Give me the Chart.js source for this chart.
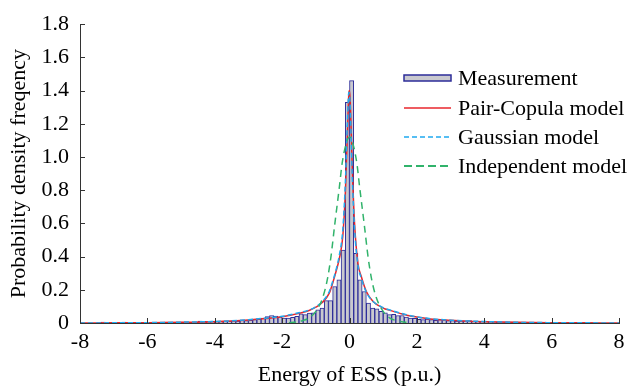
<!DOCTYPE html>
<html>
<head>
<meta charset="utf-8">
<script src="https://cdn.jsdelivr.net/npm/chart.js@4.4.0/dist/chart.umd.min.js"></script>
<style>
html, body { margin: 0; padding: 0; background: #ffffff; }
</style>
</head>
<body>
<canvas id="chart" width="633" height="387"></canvas>
<script>
// histogram bins: 0.125 wide, first bin starts at -7.5
const binStart = -7.5;
const binWidth = 0.125;
const measurement = [
    0.004, 0.006, 0.003, 0.002, 0.003, 0.002, 0.005, 0.003, 0.004, 0.002, 0.003, 0.003,
    0.003, 0.004, 0.002, 0.003, 0.005, 0.003, 0.004, 0.004, 0.006, 0.005, 0.004, 0.006,
    0.012, 0.010, 0.008, 0.011, 0.009, 0.010, 0.012, 0.010, 0.013, 0.012, 0.016, 0.014,
    0.016, 0.020, 0.022, 0.030, 0.038, 0.045, 0.042, 0.036, 0.030, 0.030, 0.034, 0.040,
    0.055, 0.050, 0.060, 0.062, 0.080, 0.090, 0.135, 0.135, 0.220, 0.260, 0.440, 1.330,
    1.460, 0.420, 0.260, 0.190, 0.120, 0.090, 0.085, 0.070, 0.062, 0.050, 0.052, 0.045,
    0.045, 0.035, 0.030, 0.028, 0.022, 0.020, 0.024, 0.020, 0.016, 0.020, 0.018, 0.014,
    0.015, 0.012, 0.010, 0.013, 0.014, 0.010, 0.008, 0.009, 0.007, 0.008, 0.006, 0.005,
    0.006, 0.004, 0.005, 0.004, 0.003, 0.004, 0.003, 0.002, 0.003, 0.004, 0.002, 0.002,
    0.002, 0.003, 0.002, 0.001, 0.002, 0.001, 0.002, 0.001, 0.001, 0.001, 0.000, 0.000
];

// fitted densities
const curveX = [-8, -7, -6, -5, -4, -3.5, -3, -2.5, -2, -1.5, -1.2, -1, -0.8, -0.6, -0.5, -0.4, -0.3, -0.2, -0.12, -0.06, -0.02, 0, 0.03, 0.08, 0.15, 0.25, 0.35, 0.5, 0.7, 1, 1.2, 1.5, 1.7, 2, 2.4, 3, 3.5, 4, 5, 6, 7, 8];
const pairCopula = [0, 0.001, 0.002, 0.004, 0.008, 0.012, 0.018, 0.027, 0.038, 0.058, 0.075, 0.095, 0.125, 0.18, 0.24, 0.31, 0.39, 0.52, 0.8, 1.15, 1.38, 1.40, 1.3, 0.95, 0.6, 0.36, 0.28, 0.19, 0.13, 0.09, 0.076, 0.058, 0.047, 0.036, 0.024, 0.016, 0.011, 0.008, 0.004, 0.002, 0.001, 0];
const gaussian = [0, 0.001, 0.002, 0.005, 0.009, 0.013, 0.02, 0.029, 0.04, 0.062, 0.078, 0.098, 0.13, 0.19, 0.25, 0.32, 0.41, 0.56, 0.86, 1.22, 1.39, 1.38, 1.25, 0.9, 0.57, 0.35, 0.27, 0.185, 0.13, 0.092, 0.078, 0.06, 0.049, 0.037, 0.026, 0.017, 0.012, 0.009, 0.004, 0.002, 0.001, 0];
const independentX = [-1.8, -1.6, -1.4, -1.2, -1.0, -0.8, -0.65, -0.55, -0.44, -0.3, -0.22, -0.1, 0, 0.1, 0.22, 0.3, 0.44, 0.55, 0.65, 0.8, 1.0, 1.2, 1.4, 1.6, 1.8];
const independent = [0.002, 0.006, 0.014, 0.03, 0.07, 0.15, 0.27, 0.40, 0.59, 0.82, 0.96, 1.08, 1.12, 1.08, 0.96, 0.82, 0.59, 0.40, 0.27, 0.15, 0.07, 0.03, 0.014, 0.006, 0.002];

const xTicks = [-8, -6, -4, -2, 0, 2, 4, 6, 8];
const yTicks = [0, 0.2, 0.4, 0.6, 0.8, 1.0, 1.2, 1.4, 1.6, 1.8];

const legendNames = ['Measurement', 'Pair-Copula model', 'Gaussian model', 'Independent model'];

const axisColor = '#333333';
const barFill = '#c9c9cf';
const barEdge = '#2d2d99';
const redColor = '#e8262c';
const blueColor = '#1fa9ef';
const greenColor = '#31b36b';
const fontFamily = '"Liberation Serif", "Times New Roman", serif';

Chart.defaults.font.family = fontFamily;
Chart.defaults.font.size = 22;
Chart.defaults.color = '#000000';

function toPoints(xs, ys) {
    let pts = [];
    for (let i = 0; i < xs.length; i++) {
        pts.push({ x: xs[i], y: ys[i] });
    }
    return pts;
}

let histPoints = [];
for (let i = 0; i < measurement.length; i++) {
    histPoints.push({ x: binStart + binWidth * (i + 0.5), y: measurement[i] });
}

// tick marks pointing into the plot
const innerTicks = {
    id: 'innerTicks',
    afterDatasetsDraw(chart) {
        const { ctx, chartArea, scales } = chart;
        ctx.save();
        ctx.strokeStyle = axisColor;
        ctx.lineWidth = 1;
        ctx.beginPath();
        xTicks.forEach(v => {
            let px = Math.round(scales.x.getPixelForValue(v)) + 0.5;
            ctx.moveTo(px, chartArea.bottom);
            ctx.lineTo(px, chartArea.bottom - 5);
        });
        yTicks.forEach(v => {
            let py = Math.round(scales.y.getPixelForValue(v)) + 0.5;
            ctx.moveTo(chartArea.left, py);
            ctx.lineTo(chartArea.left + 5, py);
        });
        ctx.stroke();
        ctx.restore();
    }
};

// legend inside the plot, top right
const insideLegend = {
    id: 'insideLegend',
    afterDraw(chart) {
        const ctx = chart.ctx;
        const x0 = 404, x1 = 451, textX = 458;
        const rows = [78, 108, 137, 166];
        ctx.save();

        ctx.fillStyle = barFill;
        ctx.fillRect(x0, rows[0] - 3, x1 - x0, 6);
        ctx.strokeStyle = barEdge;
        ctx.lineWidth = 1.5;
        ctx.strokeRect(x0, rows[0] - 3, x1 - x0, 6);

        const lineStyles = [
            { color: redColor, dash: [], width: 1.5 },
            { color: blueColor, dash: [5, 3], width: 1.5 },
            { color: greenColor, dash: [8, 4], width: 2 }
        ];
        lineStyles.forEach((s, i) => {
            ctx.beginPath();
            ctx.strokeStyle = s.color;
            ctx.lineWidth = s.width;
            ctx.setLineDash(s.dash);
            ctx.moveTo(x0, rows[i + 1]);
            ctx.lineTo(x1, rows[i + 1]);
            ctx.stroke();
        });
        ctx.setLineDash([]);

        ctx.fillStyle = '#000000';
        ctx.font = '22px ' + fontFamily;
        ctx.textBaseline = 'middle';
        ctx.textAlign = 'left';
        legendNames.forEach((name, i) => {
            ctx.fillText(name, textX, rows[i] + 1);
        });
        ctx.restore();
    }
};

const config = {
    type: 'bar',
    data: {
        datasets: [
            {
                type: 'bar',
                label: legendNames[0],
                data: histPoints,
                backgroundColor: barFill,
                borderColor: barEdge,
                borderWidth: 1,
                borderSkipped: 'start',
                categoryPercentage: 1.0,
                barPercentage: 1.0,
                order: 4
            },
            {
                type: 'line',
                label: legendNames[1],
                data: toPoints(curveX, pairCopula),
                borderColor: redColor,
                borderWidth: 1.5,
                pointRadius: 0,
                cubicInterpolationMode: 'monotone',
                order: 3
            },
            {
                type: 'line',
                label: legendNames[2],
                data: toPoints(curveX, gaussian),
                borderColor: blueColor,
                borderWidth: 1.5,
                borderDash: [5, 3],
                pointRadius: 0,
                cubicInterpolationMode: 'monotone',
                order: 2
            },
            {
                type: 'line',
                label: legendNames[3],
                data: toPoints(independentX, independent),
                borderColor: greenColor,
                borderWidth: 1.5,
                borderDash: [7, 5],
                pointRadius: 0,
                cubicInterpolationMode: 'monotone',
                order: 1
            }
        ]
    },
    options: {
        responsive: false,
        animation: false,
        layout: { padding: { top: 18, right: 14, left: 0, bottom: 0 } },
        scales: {
            x: {
                type: 'linear',
                min: -8,
                max: 8,
                offset: false,
                afterBuildTicks: scale => { scale.ticks = xTicks.map(v => ({ value: v })); },
                afterFit: scale => { scale.height = 64; },
                ticks: { padding: 6, color: '#000000', font: { size: 22 } },
                grid: { display: false, drawTicks: false },
                border: { display: true, color: axisColor, width: 1 },
                title: {
                    display: true,
                    text: 'Energy of ESS (p.u.)',
                    font: { size: 22, lineHeight: 1.1 },
                    padding: { top: 0, bottom: 0 }
                }
            },
            y: {
                min: 0,
                max: 1.8,
                afterBuildTicks: scale => { scale.ticks = yTicks.map(v => ({ value: v })); },
                afterFit: scale => { scale.width = 80; },
                ticks: {
                    padding: 11,
                    color: '#000000',
                    font: { size: 22 },
                    callback: v => (v === 0 ? '0' : v.toFixed(1))
                },
                grid: { display: false, drawTicks: false },
                border: { display: true, color: axisColor, width: 1 },
                title: {
                    display: true,
                    text: 'Probability density freqency',
                    font: { size: 22, lineHeight: 1.1 },
                    padding: { top: 7, bottom: 0 }
                }
            }
        },
        plugins: {
            legend: { display: false },
            tooltip: { enabled: false }
        }
    },
    plugins: [innerTicks, insideLegend]
};

const chart = new Chart(document.getElementById('chart'), config);
</script>
</body>
</html>
